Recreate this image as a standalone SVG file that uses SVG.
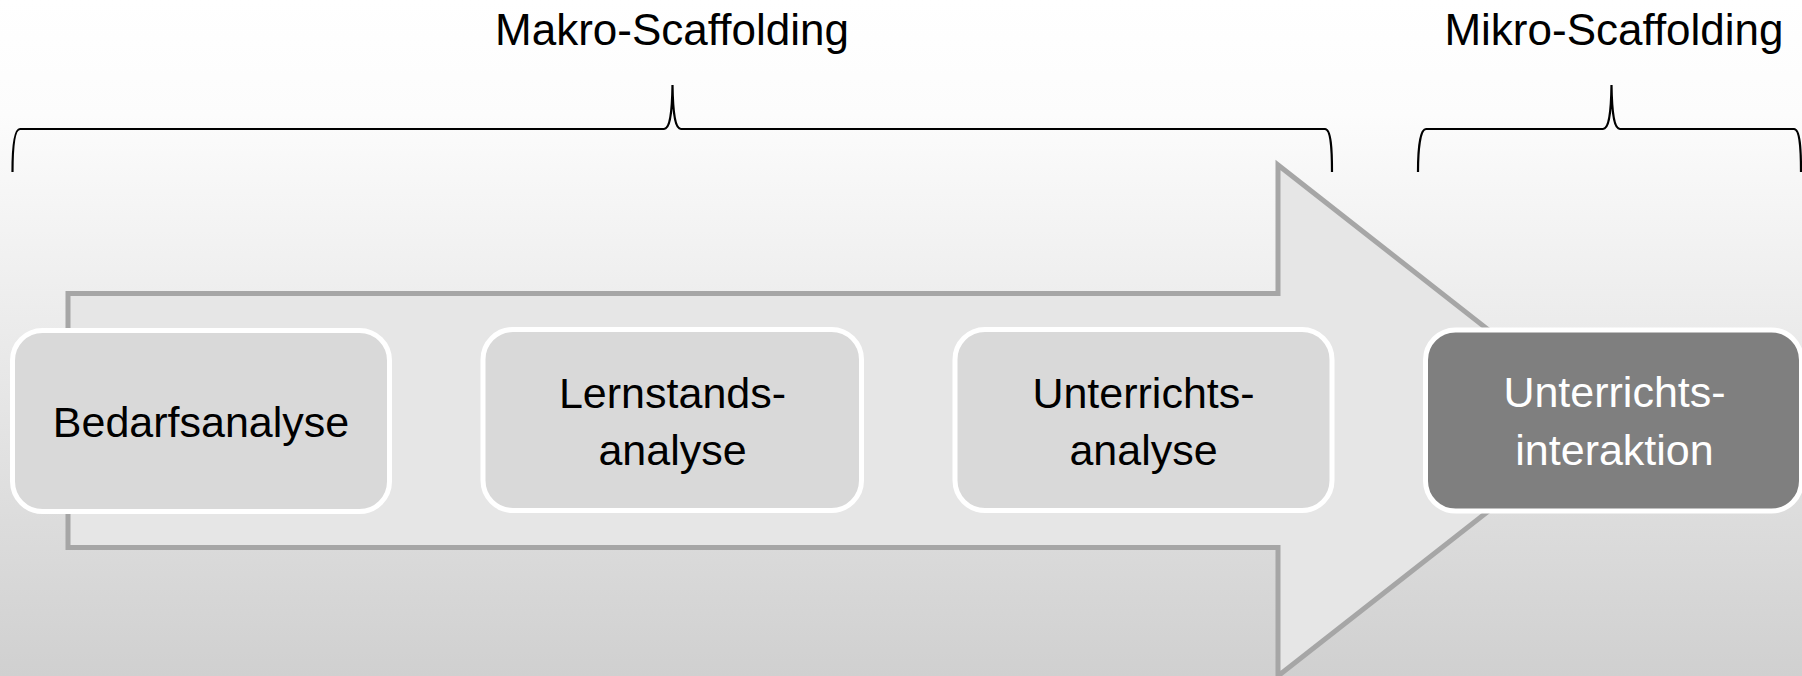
<svg xmlns="http://www.w3.org/2000/svg" width="1802" height="676" viewBox="0 0 1802 676">
  <defs>
    <linearGradient id="bg" x1="0" y1="0" x2="0" y2="676" gradientUnits="userSpaceOnUse">
      <stop offset="0" stop-color="#ffffff"/>
      <stop offset="0.17" stop-color="#fcfcfc"/>
      <stop offset="1" stop-color="#d0d0d0"/>
    </linearGradient>
    <style>
      .brace { fill: none; stroke: #000; stroke-width: 2.2; }
      .box { fill: #d9d9d9; stroke: #ffffff; stroke-width: 5; }
      .box.dark { fill: #7f7f7f; }
      .lbl { font-family: "Liberation Sans", Arial, sans-serif; font-size: 43px; fill: #000; text-anchor: middle; }
      .lbl.light { fill: #ffffff; }
      .head { font-family: "Liberation Sans", Arial, sans-serif; font-size: 44px; fill: #000; text-anchor: middle; }
    </style>
  </defs>

  <rect x="0" y="0" width="1802" height="676" fill="url(#bg)"/>

  <g id="process-arrow">
    <path d="M68,293.5 L1278,293.5 L1278,165 L1604,420.5 L1278,676 L1278,547.5 L68,547.5 Z" fill="#e6e6e6" stroke="#a6a6a6" stroke-width="5" stroke-linejoin="miter"/>
  </g>

  <g id="connectors">
    <path id="brace-makro" class="brace" d="M12.5,172 C12.5,150 14,129 20,129 L664,129 C669,129 672,118 672.5,85 C673,118 676,129 681,129 L1325,129 C1331,129 1332,150 1332,172"/>
    <path id="brace-mikro" class="brace" d="M1418,172 C1418,150 1420,129 1426,129 L1603,129 C1608,129 1611,118 1611.5,85 C1612,118 1615,129 1620,129 L1794,129 C1800,129 1801,150 1801,172"/>
  </g>

  <g id="label-makro">
    <text class="head" x="672" y="45">Makro-Scaffolding</text>
  </g>
  <g id="label-mikro">
    <text class="head" x="1614" y="45">Mikro-Scaffolding</text>
  </g>

  <g id="node-bedarfsanalyse">
    <rect class="box" x="12.5" y="330.5" width="377" height="181" rx="30" ry="30"/>
    <text class="lbl" x="201" y="437">Bedarfsanalyse</text>
  </g>
  <g id="node-lernstandsanalyse">
    <rect class="box" x="483" y="329.5" width="378.5" height="181" rx="30" ry="30"/>
    <text class="lbl" x="672.5" y="408">Lernstands-</text>
    <text class="lbl" x="672.5" y="465">analyse</text>
  </g>
  <g id="node-unterrichtsanalyse">
    <rect class="box" x="955" y="329.5" width="377" height="181" rx="30" ry="30"/>
    <text class="lbl" x="1143.5" y="408">Unterrichts-</text>
    <text class="lbl" x="1143.5" y="465">analyse</text>
  </g>
  <g id="node-unterrichtsinteraktion">
    <rect class="box dark" x="1425.5" y="330" width="376" height="181" rx="30" ry="30"/>
    <text class="lbl light" x="1614.5" y="407">Unterrichts-</text>
    <text class="lbl light" x="1614.5" y="465">interaktion</text>
  </g>
</svg>
